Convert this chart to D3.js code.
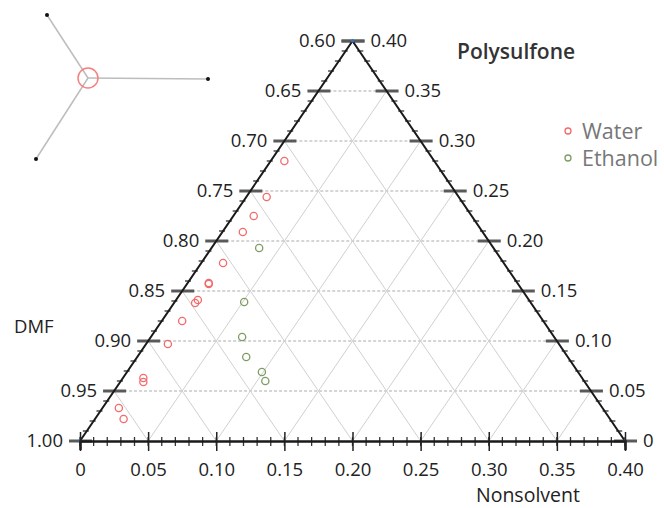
<!DOCTYPE html>
<html><head><meta charset="utf-8">
<script src="https://cdn.jsdelivr.net/npm/d3@7"></script>
<style>
html,body{margin:0;padding:0;background:#fff;}
svg{display:block;font-family:"Open Sans",sans-serif;}
</style></head>
<body><svg id="c" width="664" height="508"></svg>
<script>
// ---- data (Polysulfone fraction, Nonsolvent fraction; DMF = 1 - p - n) ----
const seriesNames = ["Water", "Ethanol"];
const waterPolysulfone = [0.280, 0.244, 0.225, 0.209, 0.178, 0.158, 0.157, 0.141, 0.138, 0.120, 0.097, 0.063, 0.059, 0.033, 0.022];
const waterNonsolvent  = [0.010, 0.015, 0.015, 0.015, 0.016, 0.0155, 0.016, 0.016, 0.0155, 0.015, 0.016, 0.015, 0.017, 0.012, 0.021];
const ethanolPolysulfone = [0.193, 0.139, 0.104, 0.084, 0.069, 0.060];
const ethanolNonsolvent  = [0.035, 0.051, 0.067, 0.080, 0.099, 0.106];
const bottomTicks = [0, 0.05, 0.10, 0.15, 0.20, 0.25, 0.30, 0.35, 0.40];
const polyTicks = [0, 0.05, 0.10, 0.15, 0.20, 0.25, 0.30, 0.35, 0.40];
const minorTicks = d3.range(0, 41).map(i => i / 100);
const fmt = v => (Math.abs(v) < 1e-9 ? "0" : v.toFixed(2));

const svg = d3.select("#c");
const x = d3.scaleLinear().domain([0, 0.4]).range([80, 625]);   // nonsolvent (bottom edge)
const y = d3.scaleLinear().domain([0, 0.4]).range([441, 41]);   // polysulfone (height)
const px = (p, n) => x(n + p / 2);
const py = p => y(p);
const leftX = p => px(p, 0);          // left edge (nonsolvent = 0)
const rightX = p => px(p, 0.4 - p);   // right edge (DMF = 0.60)

// ---- grid ----
const grid = svg.append("g");
grid.selectAll("line.h").data(polyTicks.filter(p => p > 0 && p < 0.4)).join("line")
  .attr("x1", p => leftX(p)).attr("x2", p => rightX(p))
  .attr("y1", p => py(p)).attr("y2", p => py(p))
  .attr("stroke", "#c8c8c8").attr("stroke-width", 1.5).attr("stroke-dasharray", "3,2");
grid.selectAll("line.n").data(bottomTicks.filter(n => n > 0 && n < 0.4)).join("line")
  .attr("x1", n => px(0, n)).attr("y1", py(0))
  .attr("x2", n => px(0.4 - n, n)).attr("y2", n => py(0.4 - n))
  .attr("stroke", "#d0d0d0").attr("stroke-width", 1);
grid.selectAll("line.d").data(bottomTicks.filter(c => c > 0 && c < 0.4)).join("line")
  .attr("x1", c => px(0, c)).attr("y1", py(0))
  .attr("x2", c => px(c, 0)).attr("y2", c => py(c))
  .attr("stroke", "#d0d0d0").attr("stroke-width", 1);

// ---- edges ----
const edges = svg.append("g");
edges.selectAll("line.ml").data(minorTicks).join("line")
  .attr("x1", p => leftX(p) - 4).attr("x2", p => leftX(p) + 2)
  .attr("y1", p => py(p)).attr("y2", p => py(p))
  .attr("stroke", "#333").attr("stroke-width", 1.3);
edges.selectAll("line.mr").data(minorTicks).join("line")
  .attr("x1", p => rightX(p) - 2).attr("x2", p => rightX(p) + 4)
  .attr("y1", p => py(p)).attr("y2", p => py(p))
  .attr("stroke", "#333").attr("stroke-width", 1.3);
edges.selectAll("line.mb").data(minorTicks).join("line")
  .attr("x1", n => x(n)).attr("x2", n => x(n))
  .attr("y1", py(0) - 4).attr("y2", py(0) + 5)
  .attr("stroke", "#333").attr("stroke-width", 1.3);
edges.selectAll("line.Ml").data(polyTicks).join("line")
  .attr("x1", p => leftX(p) - 11).attr("x2", p => leftX(p) + 12)
  .attr("y1", p => py(p)).attr("y2", p => py(p))
  .attr("stroke", "#5a5a5a").attr("stroke-width", 3);
edges.selectAll("line.Mr").data(polyTicks).join("line")
  .attr("x1", p => rightX(p) - 11).attr("x2", p => rightX(p) + 12)
  .attr("y1", p => py(p)).attr("y2", p => py(p))
  .attr("stroke", "#5a5a5a").attr("stroke-width", 3);
edges.append("path")
  .attr("d", `M${x(0)},${py(0)}L${px(0.4, 0)},${py(0.4)}L${x(0.4)},${py(0)}`)
  .attr("fill", "none").attr("stroke", "#1a1a1a").attr("stroke-width", 2);

// bottom axis via d3.axisBottom
const ax = svg.append("g").attr("transform", `translate(0,${py(0)})`)
  .call(d3.axisBottom(x).tickValues(bottomTicks).tickFormat(fmt).tickSize(9).tickPadding(13));
ax.select(".domain").attr("stroke", "#1a1a1a").attr("stroke-width", 2.5);
ax.selectAll(".tick line").attr("y1", -9).attr("y2", 10).attr("stroke", "#222").attr("stroke-width", 1.5);
ax.selectAll(".tick text").attr("font-size", 18.5).attr("fill", "#222").attr("font-family", "Open Sans");

edges.selectAll("circle.v").data([[0, 0], [0.4, 0], [0, 0.4]]).join("circle")
  .attr("cx", d => px(d[1], d[0])).attr("cy", d => py(d[1])).attr("r", 1.8).attr("fill", "#3a6fc0");

// left labels (DMF)
svg.append("g").selectAll("text").data(polyTicks).join("text")
  .attr("x", p => leftX(p) - 17).attr("y", p => py(p)).attr("dy", "0.35em")
  .attr("text-anchor", "end").attr("font-size", 18.5).attr("fill", "#222")
  .text(p => fmt(1 - p));
// right labels (Polysulfone)
svg.append("g").selectAll("text").data(polyTicks).join("text")
  .attr("x", p => rightX(p) + 18).attr("y", p => py(p)).attr("dy", "0.35em")
  .attr("text-anchor", "start").attr("font-size", 18.5).attr("fill", "#222")
  .text(p => fmt(p));

// ---- data points ----
const water = waterPolysulfone.map((p, i) => ({p, n: waterNonsolvent[i]}));
const ethanol = ethanolPolysulfone.map((p, i) => ({p, n: ethanolNonsolvent[i]}));
const colors = ["#f26a6a", "#7f9c62"];
[water, ethanol].forEach((s, k) => {
  svg.append("g").selectAll("circle").data(s).join("circle")
    .attr("cx", d => px(d.p, d.n)).attr("cy", d => py(d.p)).attr("r", 3.6)
    .attr("fill", "none").attr("stroke", colors[k]).attr("stroke-width", 1.3);
});

// ---- axis titles ----
svg.append("text").attr("x", 457).attr("y", 59).attr("font-size", 21).attr("font-weight", 600)
  .attr("fill", "#333").text("Polysulfone");
svg.append("text").attr("x", 14).attr("y", 333).attr("font-size", 18.5).attr("fill", "#222").text("DMF");
svg.append("text").attr("x", 476).attr("y", 502).attr("font-size", 19.5).attr("fill", "#222").text("Nonsolvent");

// ---- legend ----
const lg = svg.append("g");
seriesNames.forEach((name, i) => {
  const yy = 131 + i * 27;
  lg.append("circle").attr("cx", 568).attr("cy", yy).attr("r", 3)
    .attr("fill", "none").attr("stroke", colors[i]).attr("stroke-width", 1.3);
  lg.append("text").attr("x", 582).attr("y", yy).attr("dy", "0.36em")
    .attr("font-size", 21.5).attr("fill", "#777").text(name);
});

// ---- orientation icon ----
const icon = svg.append("g");
const c0 = [88, 78];
const ends = [[47, 15], [208, 79], [36, 159]];
ends.forEach(e => {
  icon.append("line").attr("x1", c0[0]).attr("y1", c0[1]).attr("x2", e[0]).attr("y2", e[1])
    .attr("stroke", "#bdbdbd").attr("stroke-width", 1.5);
  icon.append("circle").attr("cx", e[0]).attr("cy", e[1]).attr("r", 2).attr("fill", "#111");
});
icon.append("circle").attr("cx", c0[0]).attr("cy", c0[1]).attr("r", 10)
  .attr("fill", "none").attr("stroke", "#f58080").attr("stroke-width", 1.5);
</script></body></html>
